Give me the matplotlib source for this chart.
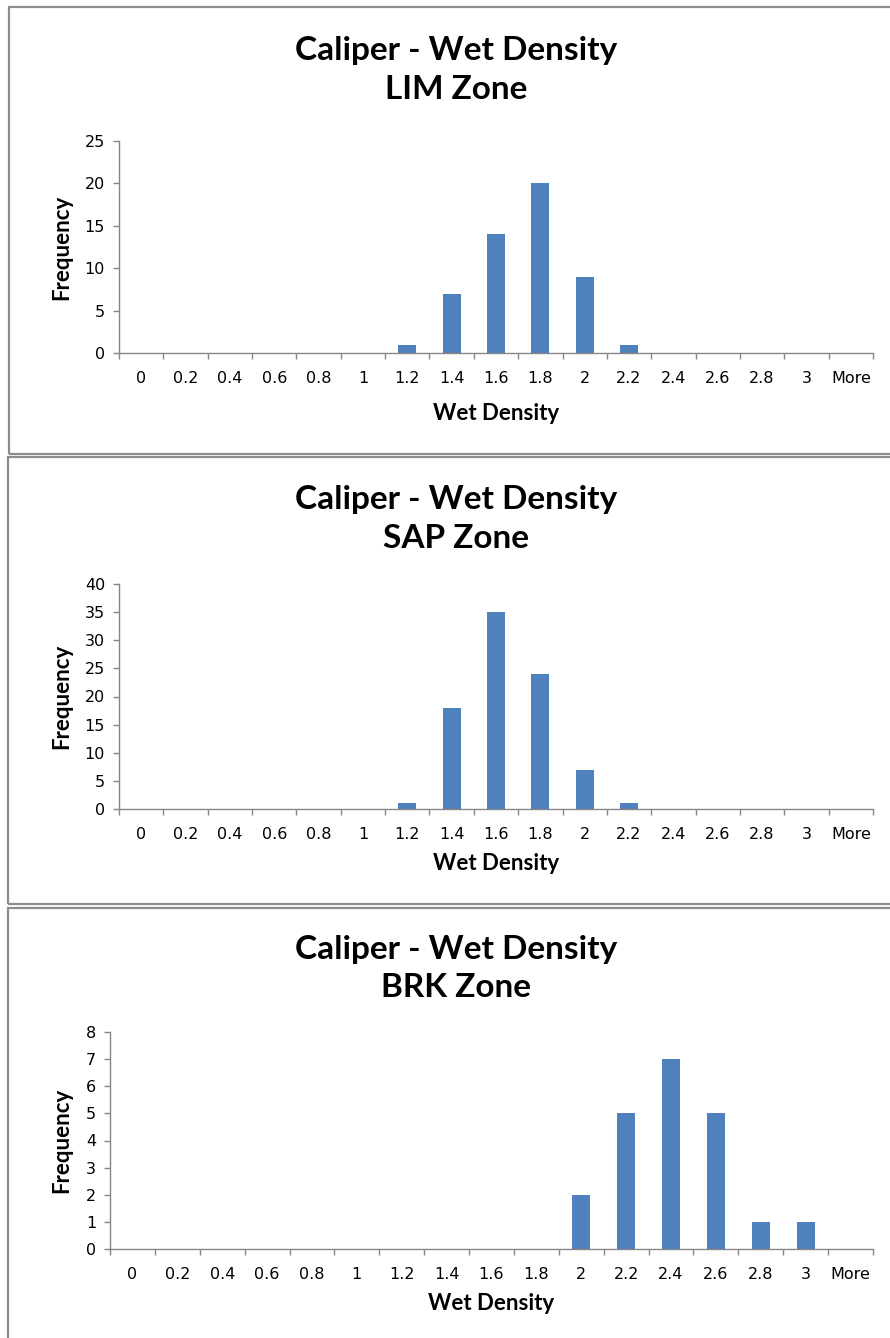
import numpy as np
import matplotlib.pyplot as plt
from matplotlib.patches import Rectangle

# histogram bins and counts
bins = ['0', '0.2', '0.4', '0.6', '0.8', '1', '1.2', '1.4', '1.6', '1.8',
        '2', '2.2', '2.4', '2.6', '2.8', '3', 'More']
lim_freq = [0, 0, 0, 0, 0, 0, 1, 7, 14, 20, 9, 1, 0, 0, 0, 0, 0]
sap_freq = [0, 0, 0, 0, 0, 0, 1, 18, 35, 24, 7, 1, 0, 0, 0, 0, 0]
brk_freq = [0, 0, 0, 0, 0, 0, 0, 0, 0, 0, 2, 5, 7, 5, 1, 1, 0]

zones = ['LIM Zone', 'SAP Zone', 'BRK Zone']
y_max = [25, 40, 8]
y_step = [5, 5, 1]

W, H = 890, 1338
BAR = '#4F81BD'
GREY = '#868686'
TITLE_FONT = 'Lato'


def fx(x):
    return x / W


def fy(y):
    return 1 - y / H


def draw_panel(fig, freq, zone, ymax, ystep, box, axbox, title_y, xlabel_y, ylabel_x):
    # outer frame of the chart object
    left, top, bottom = box
    fig.patches.append(Rectangle((fx(left), fy(bottom)), fx(W + 40 - left), fy(top) - fy(bottom),
                                 transform=fig.transFigure, fill=False,
                                 edgecolor='#8c8c8c', linewidth=1.6))

    l, r, t, b = axbox
    ax = fig.add_axes([fx(l), fy(b), fx(r - l), fy(t) - fy(b)])
    x = np.arange(len(bins))
    ax.bar(x, freq, width=0.4, color=BAR)
    ax.set_xlim(-0.5, len(bins) - 0.5)
    ax.set_ylim(0, ymax)
    ax.set_yticks(np.arange(0, ymax + ystep, ystep))
    ax.set_xticks(x, bins)
    ax.set_xticks(np.arange(-0.5, len(bins), 1), minor=True)

    for s in ['top', 'right']:
        ax.spines[s].set_visible(False)
    for s in ['left', 'bottom']:
        ax.spines[s].set_color(GREY)
        ax.spines[s].set_linewidth(1.0)
    ax.tick_params(axis='x', which='major', length=0, pad=13, labelsize=11.5)
    ax.tick_params(axis='x', which='minor', length=4, width=1.0, color=GREY, direction='out')
    ax.tick_params(axis='y', length=4, width=1.0, color=GREY, pad=6, labelsize=11.5)

    fig.text(fx(456), fy(title_y[0]), 'Caliper - Wet Density', ha='center', va='baseline',
             fontsize=24, fontweight='bold', family=TITLE_FONT)
    fig.text(fx(456), fy(title_y[1]), zone, ha='center', va='baseline',
             fontsize=24, fontweight='bold', family=TITLE_FONT)
    fig.text(fx((l + r) / 2), fy(xlabel_y), 'Wet Density', ha='center', va='center',
             fontsize=16, fontweight='bold', family=TITLE_FONT)
    fig.text(fx(ylabel_x), fy((t + b) / 2), 'Frequency', ha='center', va='center',
             rotation=90, fontsize=16, fontweight='bold', family=TITLE_FONT)
    return ax


def main():
    plt.rcParams['font.family'] = ['DejaVu Sans']
    fig = plt.figure(figsize=(W / 100, H / 100), dpi=100)

    draw_panel(fig, lim_freq, zones[0], y_max[0], y_step[0],
               (9, 7, 454), (119, 873, 141, 353), (60, 99), 413, 62)
    draw_panel(fig, sap_freq, zones[1], y_max[1], y_step[1],
               (8, 457, 904), (119, 873, 584, 809), (509, 548), 864, 62)
    draw_panel(fig, brk_freq, zones[2], y_max[2], y_step[2],
               (8, 908, H + 40), (110, 873, 1032, 1249), (959, 997), 1304, 62)

    fig.savefig('out.png', dpi=100)
    plt.close(fig)


if __name__ == '__main__':
    main()
